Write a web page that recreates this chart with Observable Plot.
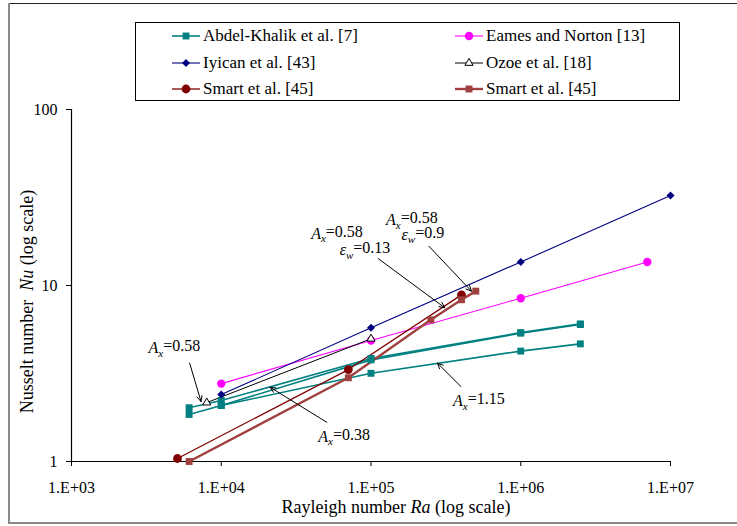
<!DOCTYPE html>
<html><head><meta charset="utf-8">
<script src="https://cdn.jsdelivr.net/npm/d3@7"></script>
<script src="https://cdn.jsdelivr.net/npm/@observablehq/plot@0.6"></script>
<style>
body{margin:0;background:#fff;}
#wrap{position:relative;width:737px;height:526px;overflow:hidden;padding-top:101px;box-sizing:border-box;font-family:"Liberation Serif","Times New Roman",serif;}
#legend{position:absolute;left:135px;top:22px;width:545px;height:79px;box-sizing:border-box;border:1px solid #000;background:#fff;}
.item{position:absolute;display:flex;align-items:center;height:18px;font-family:"Liberation Serif","Times New Roman",serif;font-size:17px;line-height:18px;color:#000;white-space:nowrap;}
.item svg{display:block;margin-right:3px;}
.bd{position:absolute;}
</style></head><body>
<div id="wrap">
  <div id="legend"></div>
  <div id="chart"></div>
  <div class="bd" style="left:9px;top:3px;width:728px;height:1px;background:#222"></div>
  <div class="bd" style="left:8px;top:3px;width:2px;height:521px;background:#8a8a8a"></div>
  <div class="bd" style="left:8px;top:522px;width:729px;height:2px;background:#8a8a8a"></div>
</div>
<script>
// ---------- data ----------
const seriesNames = ["Abdel-Khalik et al. [7]", "Eames and Norton [13]", "Iyican et al. [43]", "Ozoe et al. [18]", "Smart et al. [45]", "Smart et al. [45]"];

// Abdel-Khalik et al. [7] (three aspect ratios)
const abdelA058Ra = [6100, 10000, 100000, 1000000, 2500000];
const abdelA058Nu = [2.02, 2.22, 3.85, 5.40, 6.05];
const abdelA038Ra = [6100, 10000, 100000, 1000000, 2500000];
const abdelA038Nu = [1.85, 2.08, 3.78, 5.36, 6.00];
const abdelA115Ra = [10000, 100000, 1000000, 2500000];
const abdelA115Nu = [2.08, 3.17, 4.24, 4.66];
// Eames and Norton [13]
const eamesRa = [10000, 100000, 1000000, 7000000];
const eamesNu = [2.77, 4.87, 8.47, 13.6];
// Iyican et al. [43]
const iyicanRa = [10000, 100000, 1000000, 10000000];
const iyicanNu = [2.40, 5.75, 13.6, 32.5];
// Ozoe et al. [18]
const ozoeRa = [8000, 100000];
const ozoeNu = [2.16, 4.98];
// Smart et al. [45] circles
const smartCRa = [5100, 70600, 402000];
const smartCNu = [1.04, 3.33, 8.85];
// Smart et al. [45] squares
const smartSRa = [6100, 70600, 251000, 402000, 501000];
const smartSNu = [1.00, 2.99, 6.38, 8.30, 9.29];

// axis ticks
const xTicks = [1e3, 1e4, 1e5, 1e6, 1e7];
const xTickLabels = ["1.E+03", "1.E+04", "1.E+05", "1.E+06", "1.E+07"];
const yTicks = [1, 10, 100];
const yTickLabels = ["1", "10", "100"];
const xLabel = "Rayleigh number Ra (log scale)";
const yLabel = "Nusselt number  Nu (log scale)";

// annotations (data coordinates)
const annText = ["Ax=0.58", "Ax=0.38", "Ax=1.15", "Ax=0.58", "εw=0.13", "Ax=0.58", "εw=0.9"];
const annRa = [4860, 66100, 525000, 59300, 91200, 187600, 222000];
const annNu = [4.44, 1.387, 2.22, 19.75, 16.0, 23.7, 19.5];
const arrowRa1 = [6150, 50700, 398000, 112000, 244000];
const arrowNu1 = [3.62, 1.67, 2.67, 14.2, 16.7];
const arrowRa2 = [7330, 21200, 278000, 311000, 469000];
const arrowNu2 = [2.19, 2.64, 3.62, 7.47, 9.28];

// ---------- styles ----------
const style = [
  {color: "#008080", symbol: "square", r: 3.9, sw: 1.6, fill: "#008080"},
  {color: "#FF00FF", symbol: "circle", r: 4.2, sw: 1.1, fill: "#FF00FF"},
  {color: "#000080", symbol: "diamond2", r: 3.6, sw: 1.1, fill: "#000080"},
  {color: "#000000", symbol: "triangle", r: 3.0, sw: 1.0, fill: "#ffffff"},
  {color: "#800000", symbol: "circle", r: 4.4, sw: 1.3, fill: "#800000"},
  {color: "#A0403F", symbol: "square", r: 3.9, sw: 2.4, fill: "#A0403F"}
];

const groups = [
  {s: 0, Ra: abdelA058Ra, Nu: abdelA058Nu},
  {s: 0, Ra: abdelA038Ra, Nu: abdelA038Nu},
  {s: 0, Ra: abdelA115Ra, Nu: abdelA115Nu},
  {s: 1, Ra: eamesRa, Nu: eamesNu},
  {s: 2, Ra: iyicanRa, Nu: iyicanNu},
  {s: 3, Ra: ozoeRa, Nu: ozoeNu},
  {s: 4, Ra: smartCRa, Nu: smartCNu},
  {s: 5, Ra: smartSRa, Nu: smartSNu}
];

const marks = [];
groups.forEach((g) => {
  const rows = g.Ra.map((ra, i) => ({Ra: ra, Nu: g.Nu[i]}));
  const st = style[g.s];
  marks.push(Plot.line(rows, {x: "Ra", y: "Nu", stroke: st.color, strokeWidth: st.sw}));
});
groups.forEach((g) => {
  const rows = g.Ra.map((ra, i) => ({Ra: ra, Nu: g.Nu[i]}));
  const st = style[g.s];
  marks.push(Plot.dot(rows, {x: "Ra", y: "Nu", symbol: st.symbol, r: st.r, fill: st.fill, stroke: st.symbol === "triangle" ? st.color : "none", strokeWidth: 1}));
});

const arrows = arrowRa1.map((d, i) => ({x1: d, y1: arrowNu1[i], x2: arrowRa2[i], y2: arrowNu2[i]}));
const anns = annText.map((t, i) => ({t, Ra: annRa[i], Nu: annNu[i]}));

const chart = Plot.plot({
  width: 737, height: 425,
  marginLeft: 71, marginRight: 67, marginTop: 8, marginBottom: 65,
  style: {fontFamily: '"Liberation Serif","Times New Roman",serif', fontSize: "16px", background: "transparent", overflow: "visible", color: "#000"},
  x: {type: "log", domain: [1e3, 1e7], ticks: xTicks, tickFormat: d => xTickLabels[xTicks.indexOf(d)], tickSize: 5, tickPadding: 15, label: null},
  y: {type: "log", domain: [1, 100], ticks: yTicks, tickFormat: d => yTickLabels[yTicks.indexOf(d)], tickSize: 5, tickPadding: 9, label: null},
  marks: [
    Plot.ruleY([1], {stroke: "#000", strokeWidth: 1.2}),
    Plot.ruleX([1e3], {stroke: "#000", strokeWidth: 1.2}),
    ...marks,
    Plot.arrow(arrows, {x1: "x1", y1: "y1", x2: "x2", y2: "y2", stroke: "#000", strokeWidth: 1, headLength: 9, headAngle: 50}),
    Plot.text(anns, {x: "Ra", y: "Nu", text: "t", fontSize: 16, fill: "#000"}),
    Plot.text([yLabel], {text: d => d, frameAnchor: "left", rotate: -90, textAnchor: "middle", dx: -44, dy: 16, fontSize: 18, fill: "#000"}),
    Plot.text([xLabel], {text: d => d, frameAnchor: "bottom", textAnchor: "middle", dx: 25, dy: 51, fontSize: 18, fill: "#000"})
  ]
});
document.getElementById("chart").appendChild(chart);

// rich text: italics & subscripts
chart.querySelectorAll("text").forEach(t => {
  const s = t.textContent;
  const m = s.match(/^([Aε])([xw])(=.*)$/);
  if (m) {
    t.textContent = "";
    const sel = d3.select(t);
    sel.append("tspan").attr("font-style", "italic").text(m[1]);
    sel.append("tspan").attr("font-style", "italic").attr("font-size", 11).attr("dy", "0.35em").text(m[2]);
    sel.append("tspan").attr("dy", "-0.35em").text(m[3]);
    return;
  }
  const w = s.match(/^(.*\s)(Nu|Ra)(\s.*)$/);
  if (w && (s === xLabel || s === yLabel)) {
    t.textContent = "";
    const sel = d3.select(t);
    sel.append("tspan").text(w[1]);
    sel.append("tspan").attr("font-style", "italic").text(w[2]);
    sel.append("tspan").text(w[3]);
  }
});
chart.querySelectorAll("text").forEach(t => t.setAttribute("xml:space", "preserve"));

// ---------- legend ----------
const symMap = {square: d3.symbolSquare, circle: d3.symbolCircle, diamond2: d3.symbolDiamond2, triangle: d3.symbolTriangle};
const legend = d3.select("#legend");
const rowTops = [4, 30.5, 57];
seriesNames.forEach((name, i) => {
  const col = i % 2, row = Math.floor(i / 2);
  const st = style[i];
  const item = legend.append("div").attr("class", "item")
    .style("left", (col ? 319 : 36) + "px").style("top", rowTops[row] + "px");
  const sv = item.append("svg").attr("width", 28).attr("height", 18);
  sv.append("line").attr("x1", 0).attr("x2", 28).attr("y1", 9).attr("y2", 9)
    .attr("stroke", st.color).attr("stroke-width", st.sw);
  sv.append("path").attr("transform", "translate(14,9)")
    .attr("d", d3.symbol(symMap[st.symbol], Math.PI * st.r * st.r)())
    .attr("fill", st.fill).attr("stroke", st.symbol === "triangle" ? st.color : "none");
  item.append("span").text(name);
});
</script>
</body></html>
